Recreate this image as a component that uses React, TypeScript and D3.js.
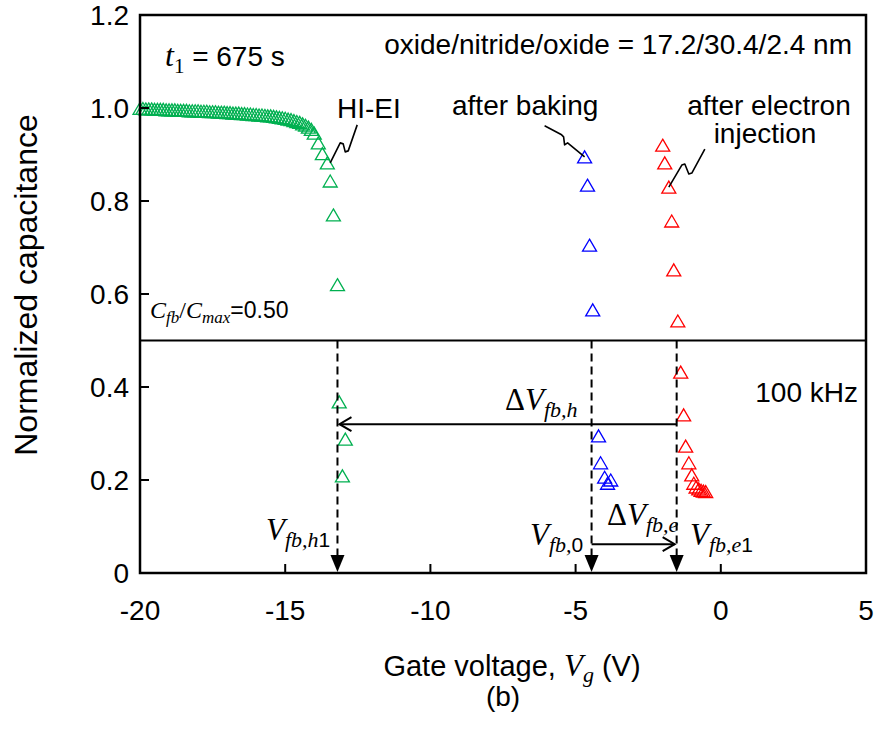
import React from 'react';
import * as d3 from 'd3';

// HI-EI (green), after baking (blue), after electron injection (red)
const greenV = [
  -20.0, -19.9, -19.8, -19.7, -19.6, -19.5, -19.4, -19.3, -19.2, -19.1,
  -19.0, -18.9, -18.8, -18.7, -18.6, -18.5, -18.4, -18.3, -18.2, -18.1,
  -18.0, -17.9, -17.8, -17.7, -17.6, -17.5, -17.4, -17.3, -17.2, -17.1,
  -17.0, -16.9, -16.8, -16.7, -16.6, -16.5, -16.4, -16.3, -16.2, -16.1,
  -16.0, -15.9, -15.8, -15.7, -15.6, -15.5, -15.4, -15.3, -15.2, -15.1,
  -15.0, -14.9, -14.8, -14.7, -14.6, -14.5, -14.4, -14.3, -14.2,
  -14.1, -14.0, -13.86, -13.72, -13.55, -13.45, -13.34, -13.2,
  -13.14, -12.93, -13.03,
];
const greenC = [
  0.999, 0.999, 0.998, 0.998, 0.998, 0.997, 0.997, 0.997, 0.997, 0.996,
  0.996, 0.996, 0.996, 0.995, 0.995, 0.995, 0.995, 0.994, 0.994, 0.994,
  0.994, 0.993, 0.993, 0.993, 0.992, 0.992, 0.992, 0.991, 0.991, 0.991,
  0.990, 0.990, 0.989, 0.989, 0.989, 0.988, 0.988, 0.987, 0.987, 0.986,
  0.986, 0.985, 0.985, 0.984, 0.983, 0.983, 0.982, 0.981, 0.980, 0.979,
  0.978, 0.976, 0.975, 0.973, 0.971, 0.969, 0.966, 0.963, 0.959,
  0.954, 0.946, 0.925, 0.902, 0.882, 0.843, 0.770, 0.620,
  0.368, 0.288, 0.209,
];
const blueV = [-4.69, -4.59, -4.52, -4.41, -4.21, -4.14, -4.0, -3.79, -3.9];
const blueC = [0.895, 0.834, 0.705, 0.566, 0.295, 0.237, 0.206, 0.2, 0.193];
const redV = [-2.0, -1.93, -1.79, -1.69, -1.62, -1.48, -1.38, -1.28, -1.21, -1.1, -1.0, -0.93, -0.85, -0.76, -0.68, -0.6, -0.52];
const redC = [0.92, 0.882, 0.83, 0.757, 0.652, 0.542, 0.432, 0.34, 0.273, 0.237, 0.211, 0.193, 0.185, 0.181, 0.178, 0.176, 0.175];

// flat-band voltages: Vfb,h1, Vfb,0, Vfb,e1
const vfb = [-13.2, -4.45, -1.52];
const cfbRatio = 0.5;
const xTicks = [-20, -15, -10, -5, 0, 5];
const yTicks = [0, 0.2, 0.4, 0.6, 0.8, 1.0, 1.2];

const W = 877;
const H = 729;
const x = d3.scaleLinear().domain([-20, 5]).range([140, 866]);
const y = d3.scaleLinear().domain([0, 1.2]).range([573, 15]);

const SANS = '"Liberation Sans", Arial, sans-serif';
const SERIF = '"Liberation Serif", "Times New Roman", serif';

const tri = 'M0,-6L7,6L-7,6Z';

function Series({ vs, cs, color }: { vs: number[]; cs: number[]; color: string }) {
  return (
    <g>
      {vs.map((v, i) => (
        <path key={i} d={tri} transform={`translate(${x(v)},${y(cs[i])})`}
          fill="none" stroke={color} strokeWidth={1.3} />
      ))}
    </g>
  );
}

export default function App() {
  const [xh, x0, xe] = vfb.map(v => x(v));
  const yh = y(0.32);
  const ye = y(0.062);
  const yCut = y(cfbRatio);
  const line = d3.line();

  const squiggle = (sx: number, sy: number, pts: [number, number][]) =>
    line(pts.map(([dx, dy]) => [sx + dx, sy + dy]));

  return (
    <div style={{ position: 'absolute', left: 0, top: 0, background: '#fff' }}>
      <svg width={W} height={H} style={{ display: 'block' }}>
        <rect width={W} height={H} fill="#fff" />

        {/* data */}
        <Series vs={greenV} cs={greenC} color="#00B050" />
        <Series vs={blueV} cs={blueC} color="#0000FF" />
        <Series vs={redV} cs={redC} color="#FF0000" />

        {/* C_fb / C_max cut line */}
        <line x1={x(-20)} x2={x(5)} y1={yCut} y2={yCut} stroke="#000" strokeWidth={2} />

        {/* dashed guides with filled arrowheads */}
        {[xh, x0, xe].map((px, i) => (
          <g key={i}>
            <line x1={px} x2={px} y1={yCut} y2={y(0) - 16} stroke="#000" strokeWidth={2} strokeDasharray="8,5" />
            <path d={`M${px - 7},${y(0) - 18}L${px + 7},${y(0) - 18}L${px},${y(0) - 1}Z`} fill="#000" />
          </g>
        ))}

        {/* ΔVfb,h arrow */}
        <line x1={xe} x2={xh + 2} y1={yh} y2={yh} stroke="#000" strokeWidth={2} />
        <path d={`M${xh + 14},${yh - 7}L${xh + 2},${yh}L${xh + 14},${yh + 7}`} fill="none" stroke="#000" strokeWidth={2} />
        {/* ΔVfb,e arrow */}
        <line x1={x0} x2={xe - 2} y1={ye} y2={ye} stroke="#000" strokeWidth={2} />
        <path d={`M${xe - 14},${ye - 7}L${xe - 2},${ye}L${xe - 14},${ye + 7}`} fill="none" stroke="#000" strokeWidth={2} />

        {/* leader squiggles */}
        <path d={squiggle(x(-13.45), y(0.882), [[0, 0], [10, -20], [13, -19], [15, -11], [18, -12], [27, -38]]) || ''}
          fill="none" stroke="#000" strokeWidth={1.6} strokeLinejoin="round" />
        <path d={squiggle(x(-4.69), y(0.895), [[0, 0], [-17, -14], [-20, -12], [-21, -20], [-23, -22], [-40, -31]]) || ''}
          fill="none" stroke="#000" strokeWidth={1.6} strokeLinejoin="round" />
        <path d={squiggle(x(-1.79), y(0.83), [[0, 0], [13, -22], [16, -23], [20, -13], [23, -14], [36, -38]]) || ''}
          fill="none" stroke="#000" strokeWidth={1.6} strokeLinejoin="round" />

        {/* frame */}
        <rect x={x(-20)} y={y(1.2)} width={x(5) - x(-20)} height={y(0) - y(1.2)} fill="none" stroke="#000" strokeWidth={2.5} />

        {/* ticks */}
        {xTicks.map(t => (
          <g key={t}>
            <line x1={x(t)} x2={x(t)} y1={y(0)} y2={y(0) - 9} stroke="#000" strokeWidth={2} />
            <text x={x(t)} y={620} textAnchor="middle" fontFamily={SANS} fontSize={28}>{t}</text>
          </g>
        ))}
        {yTicks.map(t => (
          <g key={t}>
            <line x1={x(-20)} x2={x(-20) + 9} y1={y(t)} y2={y(t)} stroke="#000" strokeWidth={2} />
            <text x={129} y={y(t) + 10} textAnchor="end" fontFamily={SANS} fontSize={28}>{t === 0 ? '0' : t.toFixed(1)}</text>
          </g>
        ))}

        {/* axis titles */}
        <text x={512} y={676} textAnchor="middle" fontFamily={SANS} fontSize={29}>
          Gate voltage, <tspan fontFamily={SERIF} fontStyle="italic" fontSize={31}>V</tspan>
          <tspan fontFamily={SERIF} fontStyle="italic" fontSize={22} dy={6}>g</tspan>
          <tspan dy={-6}> (V)</tspan>
        </text>
        <text x={503} y={706} textAnchor="middle" fontFamily={SANS} fontSize={28}>(b)</text>
        <text transform="translate(37,285) rotate(-90)" textAnchor="middle" fontFamily={SANS} fontSize={32}>Normalized capacitance</text>

        {/* annotations */}
        <text x={165} y={66} fontFamily={SERIF} fontSize={32}>
          <tspan fontStyle="italic">t</tspan>
          <tspan fontSize={21} dy={7}>1</tspan>
          <tspan dy={-7} fontFamily={SANS} fontSize={28}> = 675 s</tspan>
        </text>
        <text x={852} y={54} textAnchor="end" fontFamily={SANS} fontSize={28}>oxide/nitride/oxide = 17.2/30.4/2.4 nm</text>
        <text x={337} y={118} fontFamily={SANS} fontSize={28}>HI-EI</text>
        <text x={452} y={115} fontFamily={SANS} fontSize={28}>after baking</text>
        <text x={769} y={115} textAnchor="middle" fontFamily={SANS} fontSize={28}>after electron</text>
        <text x={765} y={143} textAnchor="middle" fontFamily={SANS} fontSize={28}>injection</text>
        <text x={858} y={402} textAnchor="end" fontFamily={SANS} fontSize={28}>100 kHz</text>

        <text x={150} y={318} fontFamily={SERIF} fontSize={24}>
          <tspan fontStyle="italic">C</tspan>
          <tspan fontStyle="italic" fontSize={17} dy={5}>fb</tspan>
          <tspan dy={-5}>/</tspan>
          <tspan fontStyle="italic">C</tspan>
          <tspan fontStyle="italic" fontSize={17} dy={5}>max</tspan>
          <tspan dy={-5} fontFamily={SANS} fontSize={23}>=0.50</tspan>
        </text>

        <text x={505} y={410} fontFamily={SERIF} fontSize={31}>
          Δ<tspan fontStyle="italic">V</tspan>
          <tspan fontStyle="italic" fontSize={22} dy={7}>fb,h</tspan>
        </text>
        <text x={607} y={525} fontFamily={SERIF} fontSize={31}>
          Δ<tspan fontStyle="italic">V</tspan>
          <tspan fontStyle="italic" fontSize={22} dy={7}>fb,e</tspan>
        </text>

        <text x={266} y={540} fontFamily={SERIF} fontSize={31}>
          <tspan fontStyle="italic">V</tspan>
          <tspan fontStyle="italic" fontSize={22} dy={7}>fb,h</tspan>
          <tspan fontFamily={SANS} fontSize={21}>1</tspan>
        </text>
        <text x={530} y={545} fontFamily={SERIF} fontSize={31}>
          <tspan fontStyle="italic">V</tspan>
          <tspan fontStyle="italic" fontSize={22} dy={7}>fb,</tspan>
          <tspan fontFamily={SANS} fontSize={21}>0</tspan>
        </text>
        <text x={690} y={545} fontFamily={SERIF} fontSize={31}>
          <tspan fontStyle="italic">V</tspan>
          <tspan fontStyle="italic" fontSize={22} dy={7}>fb,e</tspan>
          <tspan fontFamily={SANS} fontSize={21}>1</tspan>
        </text>
      </svg>
    </div>
  );
}
